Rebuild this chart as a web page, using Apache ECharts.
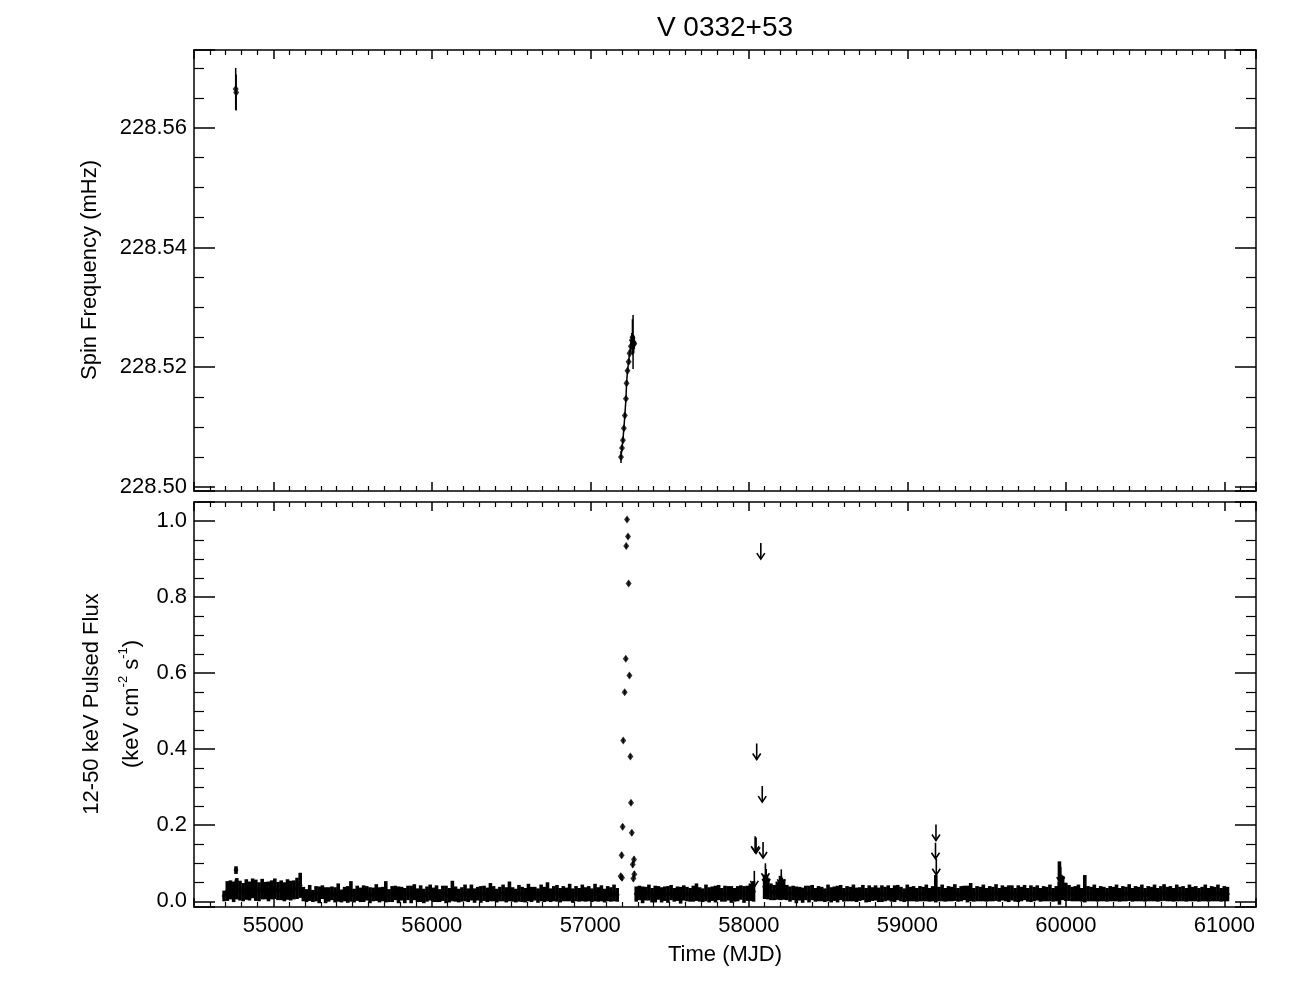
<!DOCTYPE html>
<html><head><meta charset="utf-8">
<script src="https://cdn.jsdelivr.net/npm/echarts@6/dist/echarts.min.js"></script>
<style>html,body{margin:0;padding:0;background:#fff}#c{width:1296px;height:1008px}</style>
</head><body><div id="c"></div>
<script>
const TITLE = 'V 0332+53';
const X_TITLE = 'Time (MJD)';
const Y1_TITLE = 'Spin Frequency (mHz)';
const Y2_TITLE_1 = '12-50 keV Pulsed Flux';
const xTickLabels = [55000, 56000, 57000, 58000, 59000, 60000, 61000];
const yTopTickLabels = [228.50, 228.52, 228.54, 228.56];
const yBotTickLabels = [0.0, 0.2, 0.4, 0.6, 0.8, 1.0];

// Spin frequency (mHz)
const spinMjd  = [54763, 54766, 57194, 57200, 57206, 57212, 57218, 57225, 57229, 57235, 57242, 57248, 57256, 57262, 57266, 57270, 57274, 57278];
const spinFreq = [228.5665, 228.5659, 228.5050, 228.5065, 228.5078, 228.5098, 228.5119, 228.5147, 228.5173, 228.5194, 228.5209, 228.5223, 228.5235, 228.5245, 228.5250, 228.5242, 228.5238, 228.5240];
const spinErr  = [0.0035, 0.0030, 0.0010, 0.0005, 0.0004, 0.0004, 0.0004, 0.0004, 0.0004, 0.0005, 0.0005, 0.0006, 0.0010, 0.0012, 0.0030, 0.0045, 0.0015, 0.0010];

// Pulsed flux, early monitoring
const mjdA  = [54690,54710,54730,54750,54770,54790,54810,54830,54850,54870,54890,54910,54930,54950,54970,54990,55010,55030,55050,55070,55090,55110,55130,55150,55170,54765,54767];
const fluxA = [0.014,0.027,0.030,0.025,0.033,0.028,0.024,0.031,0.027,0.034,0.029,0.025,0.032,0.028,0.026,0.030,0.033,0.027,0.029,0.025,0.031,0.028,0.030,0.034,0.042,0.082,0.045];
const errA  = [0.014,0.026,0.025,0.027,0.028,0.026,0.024,0.027,0.025,0.026,0.028,0.025,0.027,0.023,0.026,0.025,0.027,0.024,0.026,0.025,0.027,0.026,0.025,0.028,0.033,0.010,0.012];

// Pulsed flux, quiescence before 2015 outburst
const mjdB = [55190,55210,55230,55250,55270,55290,55310,55330,55350,55370,
55390,55410,55430,55450,55470,55490,55510,55530,55550,55570,
55590,55610,55630,55650,55670,55690,55710,55730,55750,55770,
55790,55810,55830,55850,55870,55890,55910,55930,55950,55970,
55990,56010,56030,56050,56070,56090,56110,56130,56150,56170,
56190,56210,56230,56250,56270,56290,56310,56330,56350,56370,
56390,56410,56430,56450,56470,56490,56510,56530,56550,56570,
56590,56610,56630,56650,56670,56690,56710,56730,56750,56770,
56790,56810,56830,56850,56870,56890,56910,56930,56950,56970,
56990,57010,57030,57050,57070,57090,57110,57130,57150,57170];
const fluxB = [0.019,0.015,0.022,0.014,0.020,0.017,0.024,0.016,0.018,0.021,
0.017,0.023,0.014,0.019,0.018,0.026,0.015,0.021,0.017,0.020,
0.021,0.016,0.018,0.023,0.017,0.019,0.025,0.015,0.019,0.022,
0.017,0.020,0.015,0.022,0.018,0.024,0.016,0.020,0.014,0.019,
0.023,0.017,0.020,0.015,0.021,0.018,0.016,0.027,0.019,0.015,
0.018,0.022,0.016,0.023,0.015,0.020,0.018,0.021,0.017,0.024,
0.020,0.015,0.019,0.022,0.017,0.026,0.018,0.015,0.021,0.018,
0.016,0.023,0.018,0.020,0.015,0.022,0.018,0.025,0.016,0.020,
0.021,0.016,0.020,0.018,0.023,0.015,0.020,0.017,0.022,0.018,
0.020,0.016,0.023,0.018,0.021,0.015,0.020,0.018,0.022,0.017];
const errB = [0.019,0.017,0.021,0.016,0.020,0.022,0.018,0.021,0.019,0.018,
0.020,0.024,0.017,0.019,0.022,0.027,0.018,0.020,0.019,0.022,
0.019,0.021,0.018,0.022,0.020,0.019,0.028,0.017,0.021,0.019,
0.022,0.018,0.020,0.019,0.023,0.021,0.018,0.022,0.019,0.020,
0.021,0.019,0.022,0.017,0.020,0.023,0.019,0.027,0.020,0.018,
0.019,0.022,0.018,0.021,0.019,0.018,0.022,0.020,0.019,0.024,
0.020,0.018,0.019,0.022,0.020,0.026,0.019,0.018,0.022,0.020,
0.019,0.023,0.020,0.018,0.019,0.022,0.020,0.025,0.018,0.020,
0.022,0.019,0.020,0.018,0.023,0.019,0.020,0.018,0.022,0.019,
0.020,0.018,0.023,0.019,0.021,0.018,0.020,0.019,0.022,0.018];

// 2015 outburst
const burstMjd  = [57192,57198,57200,57204,57208,57217,57224,57227,57232,57238,57242,57247,57253,57257,57262,57268,57272,57276,57278];
const burstFlux = [0.066,0.121,0.062,0.196,0.423,0.550,0.638,0.934,1.004,0.959,0.836,0.594,0.381,0.259,0.180,0.097,0.060,0.110,0.071];
const burstErr  = [0.008,0.008,0.008,0.007,0.006,0.006,0.006,0.006,0.006,0.006,0.006,0.006,0.006,0.006,0.007,0.008,0.008,0.008,0.008];

// Pulsed flux after outburst
const mjdC = [57290,57310,57330,57350,57370,57390,57410,57430,57450,57470,
57490,57510,57530,57550,57570,57590,57610,57630,57650,57670,
57690,57710,57730,57750,57770,57790,57810,57830,57850,57870,
57890,57910,57930,57950,57970,57990,58010,58030];
const fluxC = [0.019,0.022,0.017,0.020,0.023,0.016,0.019,0.022,0.017,0.020,
0.018,0.023,0.017,0.020,0.016,0.022,0.019,0.017,0.020,0.024,
0.018,0.016,0.022,0.017,0.020,0.019,0.023,0.017,0.020,0.021,
0.018,0.017,0.020,0.023,0.018,0.021,0.024,0.026];
const errC = [0.020,0.019,0.022,0.018,0.021,0.019,0.022,0.018,0.020,0.019,
0.022,0.020,0.018,0.019,0.022,0.020,0.019,0.018,0.021,0.023,
0.019,0.018,0.022,0.020,0.019,0.022,0.020,0.018,0.021,0.019,
0.022,0.018,0.020,0.019,0.022,0.020,0.023,0.027];

const mjdD = [58100,58120,58140,58160,58180,58200,58220,58240,
58260,58280,58300,58320,58340,58360,58380,58400,58420,58440,
58460,58480,58500,58520,58540,58560,58580,58600,58620,58640,
58660,58680,58700,58720,58740,58760,58780,58800,58820,58840,
58860,58880,58900,58920,58940,58960,58980,59000,59020,59040,
59060,59080,59100,59120,59140,59160,59180,59200,59220,59240,
59260,59280,59300,59320,59340,59360,59380,59400,59420,59440,
59460,59480,59500,59520,59540,59560,59580,59600,59620,59640,
59660,59680,59700,59720,59740,59760,59780,59800,59820,59840,
59860,59880,59900,59920,59940,59960,59980,60000,60020,60040,
60060,60080,60100,60120,60140,60160,60180,60200,60220,60240,
60260,60280,60300,60320,60340,60360,60380,60400,60420,60440,
60460,60480,60500,60520,60540,60560,60580,60600,60620,60640,
60660,60680,60700,60720,60740,60760,60780,60800,60820,60840,
60860,60880,60900,60920,60940,60960,60980,61000,61020];
const fluxD = [0.038,0.033,0.025,0.023,0.028,0.035,0.031,0.023,
0.019,0.022,0.017,0.020,0.016,0.022,0.019,0.023,0.017,0.020,
0.019,0.016,0.022,0.017,0.020,0.019,0.023,0.017,0.020,0.019,
0.022,0.017,0.019,0.023,0.016,0.020,0.019,0.022,0.017,0.020,
0.019,0.022,0.017,0.020,0.023,0.019,0.016,0.022,0.019,0.020,
0.017,0.020,0.019,0.022,0.017,0.020,0.033,0.019,0.022,0.017,
0.020,0.019,0.023,0.017,0.020,0.022,0.019,0.024,0.017,0.020,
0.019,0.022,0.017,0.020,0.019,0.023,0.017,0.022,0.019,0.020,
0.022,0.017,0.020,0.019,0.023,0.017,0.020,0.019,0.022,0.017,
0.020,0.019,0.022,0.017,0.020,0.048,0.035,0.025,0.022,0.019,
0.020,0.022,0.017,0.033,0.020,0.019,0.022,0.017,0.020,0.019,
0.017,0.020,0.019,0.022,0.017,0.020,0.019,0.023,0.017,0.020,
0.019,0.022,0.017,0.020,0.019,0.022,0.017,0.020,0.023,0.019,
0.020,0.017,0.022,0.019,0.020,0.017,0.022,0.019,0.020,0.017,
0.019,0.022,0.017,0.020,0.019,0.022,0.017,0.020,0.019];
const errD = [0.032,0.028,0.022,0.020,0.024,0.032,0.027,0.020,
0.020,0.019,0.022,0.018,0.020,0.019,0.022,0.020,0.018,0.020,
0.019,0.018,0.022,0.020,0.019,0.022,0.020,0.018,0.020,0.019,
0.022,0.019,0.018,0.020,0.019,0.022,0.018,0.020,0.019,0.022,
0.019,0.020,0.018,0.022,0.020,0.019,0.018,0.022,0.019,0.020,
0.018,0.020,0.019,0.022,0.018,0.020,0.036,0.019,0.022,0.018,
0.020,0.019,0.022,0.018,0.020,0.019,0.022,0.024,0.018,0.020,
0.019,0.022,0.018,0.020,0.019,0.022,0.018,0.020,0.019,0.022,
0.020,0.018,0.022,0.019,0.020,0.018,0.022,0.019,0.020,0.018,
0.020,0.019,0.022,0.018,0.020,0.057,0.032,0.024,0.021,0.019,
0.020,0.022,0.018,0.036,0.020,0.019,0.022,0.018,0.020,0.019,
0.018,0.020,0.019,0.022,0.018,0.020,0.019,0.022,0.018,0.020,
0.019,0.022,0.018,0.020,0.019,0.022,0.018,0.020,0.022,0.019,
0.020,0.018,0.022,0.019,0.020,0.018,0.022,0.019,0.020,0.018,
0.019,0.022,0.018,0.020,0.019,0.022,0.018,0.020,0.019];

// Upper limits (arrows)
const ulMjd  = [58076, 58050, 58085, 58040, 58046, 58090, 58035, 58105, 58110, 58118, 58205, 58212, 59181, 59178, 59183, 59968, 59975];
const ulFlux = [0.942, 0.415, 0.303, 0.171, 0.168, 0.156, 0.080, 0.100, 0.085, 0.070, 0.084, 0.062, 0.202, 0.154, 0.112, 0.090, 0.070];

const FONT = 'Liberation Sans, Arial, Helvetica, sans-serif';

function zip3(a, b, c) { return a.map((v, i) => [v, b[i], c[i]]); }
const noiseRows = [].concat(zip3(mjdA, fluxA, errA), zip3(mjdB, fluxB, errB), zip3(mjdC, fluxC, errC), zip3(mjdD, fluxD, errD));
const burstRows = zip3(burstMjd, burstFlux, burstErr);
const spinRows = zip3(spinMjd, spinFreq, spinErr);
const ulRows = ulMjd.map((m, i) => [m, ulFlux[i]]);

function errBar(width) {
  return function (params, api) {
    const x = api.value(0), v = api.value(1), e = api.value(2);
    const p1 = api.coord([x, v - e]), p2 = api.coord([x, v + e]);
    return { type: 'line', shape: { x1: p1[0], y1: p1[1], x2: p2[0], y2: p2[1] }, style: { stroke: '#000', lineWidth: width } };
  };
}
function arrow(params, api) {
  const p = api.coord([api.value(0), api.value(1)]);
  const L = 16, hw = 4, hh = 6;
  return { type: 'group', children: [
    { type: 'line', shape: { x1: p[0], y1: p[1], x2: p[0], y2: p[1] + L }, style: { stroke: '#000', lineWidth: 1.6 } },
    { type: 'polyline', shape: { points: [[p[0] - hw, p[1] + L - hh], [p[0], p[1] + L], [p[0] + hw, p[1] + L - hh]] }, style: { stroke: '#000', fill: null, lineWidth: 1.6 } }
  ] };
}

const axLine = { show: true, onZero: false, lineStyle: { color: '#000', width: 1.5 } };
function xAx(grid, pos, labels) {
  return {
    type: 'value', gridIndex: grid, position: pos, min: 54500, max: 61200,
    minInterval: 1000, maxInterval: 1000, splitNumber: 7,
    axisLine: axLine,
    axisTick: { show: true, inside: true, length: 9, lineStyle: { color: '#000', width: 1.5 } },
    minorTick: { show: true, splitNumber: 10, length: 5, lineStyle: { color: '#000', width: 1.2 } },
    splitLine: { show: false }, minorSplitLine: { show: false },
    axisLabel: {
      show: labels, margin: 8, color: '#000', fontSize: 22, fontFamily: FONT,
      showMinLabel: false, showMaxLabel: false,
      formatter: v => xTickLabels.includes(Math.round(v)) && Math.abs(v - Math.round(v)) < 1e-6 ? String(Math.round(v)) : ''
    }
  };
}
function yAx(grid, pos, labels, min, max, step, minorSplit, ticksList, digits) {
  return {
    type: 'value', gridIndex: grid, position: pos, min: min, max: max,
    minInterval: step, maxInterval: step, splitNumber: 4,
    axisLine: axLine,
    axisTick: { show: true, inside: true, length: 21, lineStyle: { color: '#000', width: 1.5 } },
    minorTick: { show: true, splitNumber: minorSplit, length: 10, lineStyle: { color: '#000', width: 1.2 } },
    splitLine: { show: false }, minorSplitLine: { show: false },
    axisLabel: {
      show: labels, margin: 7, color: '#000', fontSize: 22, fontFamily: FONT,
      showMinLabel: false, showMaxLabel: false,
      formatter: v => ticksList.some(t => Math.abs(t - v) < step * 1e-3) ? v.toFixed(digits) : ''
    }
  };
}

const chart = echarts.init(document.getElementById('c'), null, { renderer: 'canvas' });
chart.setOption({
  animation: false,
  backgroundColor: '#fff',
  grid: [
    { left: 194, top: 50, width: 1062, height: 441, containLabel: false },
    { left: 194, top: 502, width: 1062, height: 405, containLabel: false }
  ],
  xAxis: [xAx(0, 'bottom', false), xAx(0, 'top', false), xAx(1, 'bottom', true), xAx(1, 'top', false)],
  yAxis: [
    yAx(0, 'left', true, 228.4993, 228.573, 0.02, 4, yTopTickLabels, 2),
    yAx(0, 'right', false, 228.4993, 228.573, 0.02, 4, yTopTickLabels, 2),
    yAx(1, 'left', true, -0.015, 1.05, 0.2, 4, yBotTickLabels, 1),
    yAx(1, 'right', false, -0.015, 1.05, 0.2, 4, yBotTickLabels, 1)
  ],
  graphic: [
    { type: 'text', x: 725, y: 28, style: { text: TITLE, font: '28px ' + FONT, fill: '#000', textAlign: 'center', textVerticalAlign: 'middle' } },
    { type: 'text', x: 725, y: 955, style: { text: X_TITLE, font: '22px ' + FONT, fill: '#000', textAlign: 'center', textVerticalAlign: 'middle' } },
    { type: 'text', x: 90, y: 270, rotation: Math.PI / 2, style: { text: Y1_TITLE, font: '22px ' + FONT, fill: '#000', textAlign: 'center', textVerticalAlign: 'middle' } },
    { type: 'text', x: 92, y: 704, rotation: Math.PI / 2, style: { text: Y2_TITLE_1, font: '22px ' + FONT, fill: '#000', textAlign: 'center', textVerticalAlign: 'middle' } },
    { type: 'text', x: 130, y: 704, rotation: Math.PI / 2, style: {
      text: '{a|(keV cm}{s|-2}{a| s}{s|-1}{a|)}', textAlign: 'center', textVerticalAlign: 'middle', fill: '#000',
      rich: {
        a: { fontSize: 22, fontFamily: FONT, lineHeight: 26, verticalAlign: 'bottom', fill: '#000' },
        s: { fontSize: 13, fontFamily: FONT, lineHeight: 14, verticalAlign: 'top', fill: '#000' }
      } } }
  ],
  series: [
    { type: 'custom', xAxisIndex: 0, yAxisIndex: 0, clip: true, renderItem: errBar(1.5), data: spinRows, encode: { x: 0, y: 1 }, z: 2 },
    { type: 'line', xAxisIndex: 0, yAxisIndex: 0, data: spinRows.filter(r => r[0] > 57000).map(r => [r[0], r[1]]), showSymbol: false, symbol: 'none', lineStyle: { color: '#000', width: 1.5 }, z: 2 },
    { type: 'scatter', xAxisIndex: 0, yAxisIndex: 0, data: spinRows.map(r => [r[0], r[1]]), symbol: 'diamond', symbolSize: [6, 8], itemStyle: { color: '#000' }, z: 3 },

    { type: 'custom', xAxisIndex: 2, yAxisIndex: 2, clip: true, renderItem: errBar(3.6), data: noiseRows, encode: { x: 0, y: 1 }, z: 2 },
    { type: 'scatter', xAxisIndex: 2, yAxisIndex: 2, data: noiseRows.map(r => [r[0], r[1]]), symbol: 'diamond', symbolSize: [5, 7], itemStyle: { color: '#000' }, z: 3 },
    { type: 'custom', xAxisIndex: 2, yAxisIndex: 2, clip: true, renderItem: errBar(1.5), data: burstRows, encode: { x: 0, y: 1 }, z: 2 },
    { type: 'scatter', xAxisIndex: 2, yAxisIndex: 2, data: burstRows.map(r => [r[0], r[1]]), symbol: 'diamond', symbolSize: [6, 8], itemStyle: { color: '#000' }, z: 3 },
    { type: 'custom', xAxisIndex: 2, yAxisIndex: 2, clip: true, renderItem: arrow, data: ulRows, encode: { x: 0, y: 1 }, z: 4 }
  ]
});
</script>
</body></html>
